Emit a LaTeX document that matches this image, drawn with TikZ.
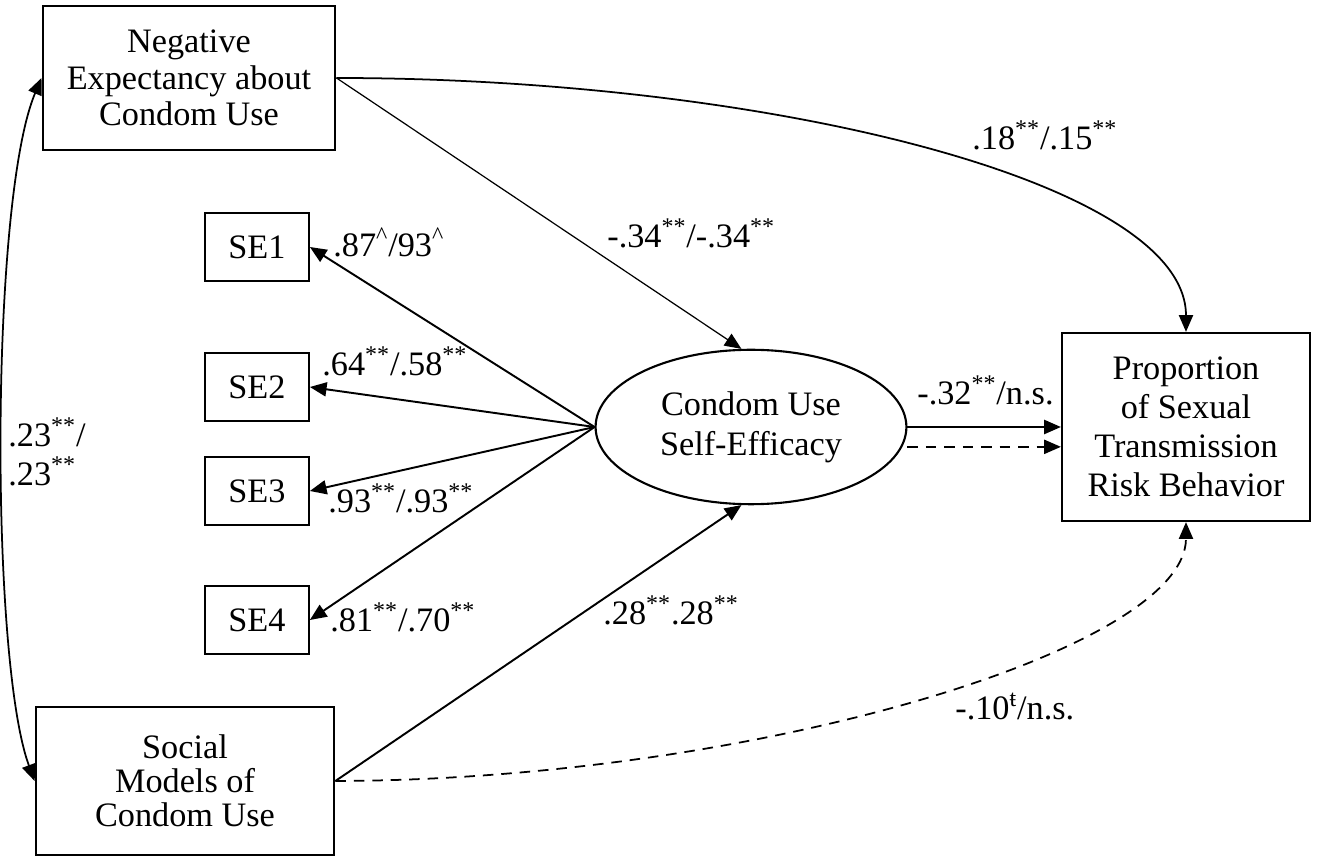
\documentclass[tikz,border=0pt]{standalone}
\usepackage{fontspec}
\setmainfont{Liberation Serif}
\usetikzlibrary{arrows.meta}
\usetikzlibrary{shapes.geometric}
\newcommand{\twostar}{\textsuperscript{**}}
\newcommand{\hatsup}{\textsuperscript{\textasciicircum}}

\begin{document}
\begin{tikzpicture}[x=0.02cm,y=-0.02cm,
    box/.style={draw,line width=1.2pt,align=center,inner sep=0pt,font=\fontsize{19.5}{20.7}\selectfont},
    lbl/.style={anchor=base west,inner sep=0pt,font=\fontsize{19.5}{22}\selectfont},
    arr/.style={line width=1.1pt,-{Triangle[length=9.5pt,width=8pt]}},
    thinarr/.style={line width=0.7pt,-{Triangle[length=9.5pt,width=8pt]}},
    curvearr/.style={line width=1pt,-{Triangle[length=9.5pt,width=8pt]}},
    dasharr/.style={line width=1pt,dash pattern=on 6pt off 4.5pt,-{Triangle[length=9.5pt,width=8pt]}}]
    \useasboundingbox (0,0) rectangle (1319,857);
    \node[box,minimum width=166.7pt,minimum height=81.6pt] (neg) at (189,78) {Negative\\Expectancy about\\Condom Use};
    \node[box,minimum width=170pt,minimum height=83.9pt,font=\fontsize{19.5}{19.5}\selectfont] (soc) at (185,781) {Social\\Models of\\Condom Use};
    \node[box,minimum width=59pt,minimum height=38.5pt] (se1) at (257,247) {SE1};
    \node[box,minimum width=59pt,minimum height=38.5pt] (se2) at (257,387) {SE2};
    \node[box,minimum width=59pt,minimum height=38.5pt] (se3) at (257,491) {SE3};
    \node[box,minimum width=59pt,minimum height=38.5pt] (se4) at (257,620) {SE4};
    \node[box,ellipse,minimum width=176.9pt,minimum height=87.9pt,font=\fontsize{19.5}{22.7}\selectfont] (cue) at (751,427) {Condom Use\\Self-Efficacy};
    \node[box,minimum width=141.2pt,minimum height=107.1pt,font=\fontsize{19.5}{22.3}\selectfont] (prop) at (1186,427) {Proportion\\of Sexual\\Transmission\\Risk Behavior};

    \draw[curvearr,{Triangle[length=9.5pt,width=8pt]}-{Triangle[length=9.5pt,width=8pt]}] (neg.west) .. controls (-10,200) and (-10,660) .. (soc.west);
    \draw[curvearr] (neg.east) .. controls (760,78) and (1186,180) .. (prop.north);
    \draw[thinarr] (neg.east) -- (cue.97);
    \draw[arr] (cue.west) -- (se1.east);
    \draw[arr] (cue.west) -- (se2.east);
    \draw[arr] (cue.west) -- (se3.east);
    \draw[arr] (cue.west) -- (se4.east);
    \draw[arr] (soc.east) -- (cue.263);
    \draw[arr] (cue.east) -- (prop.west);
    \draw[dasharr] ([yshift=-11.3pt]cue.east) -- ([yshift=-11.3pt]prop.west);
    \draw[dasharr] (soc.east) .. controls (750,780) and (1186,650) .. (prop.south);

    \node[lbl] (l18) at (972,150) {.18\twostar/.15\twostar};
    \node[lbl] (l34) at (607,248) {-.34\twostar/-.34\twostar};
    \node[lbl] (l87) at (333,257) {.87\hatsup/93\hatsup};
    \node[lbl] (l64) at (322,376) {.64\twostar/.58\twostar};
    \node[lbl] (l93) at (328,513) {.93\twostar/.93\twostar};
    \node[lbl] (l81) at (330,632) {.81\twostar/.70\twostar};
    \node[lbl] (l28) at (603,625) {.28\twostar.28\twostar};
    \node[lbl] (l32) at (917,405) {-.32\twostar/n.s.};
    \node[lbl] (l10) at (955,720) {-.10\textsuperscript{ŧ}/n.s.};
    \node[lbl,anchor=west,align=left] (l23) at (8,452) {.23\twostar/\\.23\twostar};
\end{tikzpicture}
\end{document}
